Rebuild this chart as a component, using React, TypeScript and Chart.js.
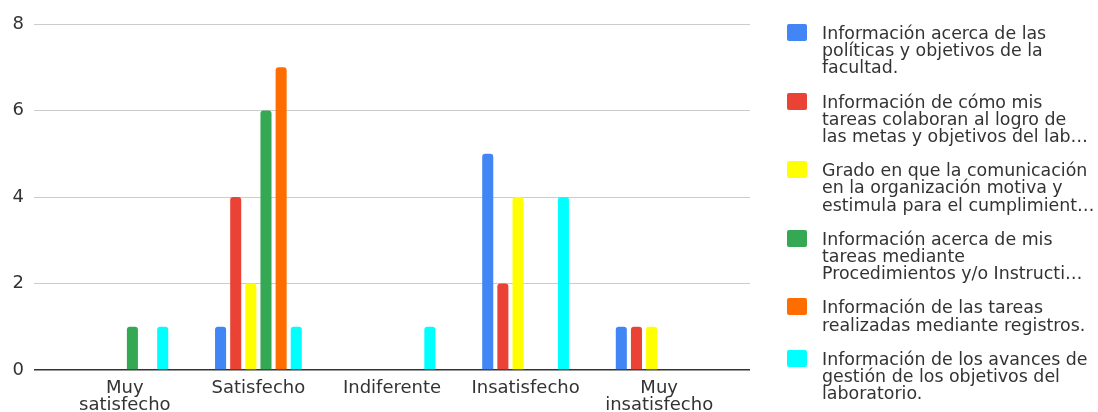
import React, { useEffect, useRef } from "react";
import { Chart, registerables } from "chart.js";

Chart.register(...registerables);

// ---- data ----
const categories = ["Muy satisfecho", "Satisfecho", "Indiferente", "Insatisfecho", "Muy insatisfecho"];
const categoryLabelLines = [["Muy", "satisfecho"], ["Satisfecho"], ["Indiferente"], ["Insatisfecho"], ["Muy", "insatisfecho"]];

const politicasFacultad = [0, 1, 0, 5, 1];
const colaboranLogro = [0, 4, 0, 2, 1];
const gradoComunicacion = [0, 2, 0, 4, 1];
const procedimientosInstructivos = [1, 6, 0, 0, 0];
const tareasRegistros = [0, 7, 0, 0, 0];
const avancesGestion = [1, 1, 1, 4, 0];

const seriesNames = [
  "Información acerca de las políticas y objetivos de la facultad.",
  "Información de cómo mis tareas colaboran al logro de las metas y objetivos del laboratorio",
  "Grado en que la comunicación en la organización motiva y estimula para el cumplimiento",
  "Información acerca de mis tareas mediante Procedimientos y/o Instructivos",
  "Información de las tareas realizadas mediante registros.",
  "Información de los avances de gestión de los objetivos del laboratorio.",
];
const legendLines = [
  ["Información acerca de las", "políticas y objetivos de la", "facultad."],
  ["Información de cómo mis", "tareas colaboran al logro de", "las metas y objetivos del lab…"],
  ["Grado en que la comunicación", "en la organización motiva y", "estimula para el cumplimient…"],
  ["Información acerca de mis", "tareas mediante", "Procedimientos y/o Instructi…"],
  ["Información de las tareas", "realizadas mediante registros."],
  ["Información de los avances de", "gestión de los objetivos del", "laboratorio."],
];
const seriesValues = [
  politicasFacultad,
  colaboranLogro,
  gradoComunicacion,
  procedimientosInstructivos,
  tareasRegistros,
  avancesGestion,
];
const seriesColors = ["#4285F4", "#EA4335", "#FFFF00", "#34A853", "#FF6D01", "#00FFFF"];

const yTicks = [0, 2, 4, 6, 8];

const FONT = "'DejaVu Sans', sans-serif";

export default function App() {
  const canvasRef = useRef<HTMLCanvasElement | null>(null);

  useEffect(() => {
    if (!canvasRef.current) return;
    const chart = new Chart(canvasRef.current, {
      type: "bar",
      data: {
        datasets: seriesValues.map((vals, si) => ({
          label: seriesNames[si],
          data: vals.map((v, i) => ({ x: i, y: v })),
          backgroundColor: seriesColors[si],
          borderRadius: 3,
          borderWidth: 0,
          categoryPercentage: 0.68,
          barPercentage: 0.73,
        })),
      },
      options: {
        animation: false,
        responsive: true,
        maintainAspectRatio: false,
        layout: { padding: { left: 0, right: 348, top: 24, bottom: 0 } },
        plugins: {
          legend: { display: false },
          tooltip: { enabled: false },
        },
        scales: {
          x: {
            type: "linear",
            offset: false,
            min: -0.68,
            max: 4.68,
            grid: { display: false, drawTicks: false, offset: false },
            border: { display: false },
            afterBuildTicks: (scale: any) => {
              scale.ticks = categories.map((_, i) => ({ value: i }));
            },
            afterFit: (scale: any) => {
              scale.height = 42;
            },
            ticks: {
              autoSkip: false,
              maxRotation: 0,
              minRotation: 0,
              padding: 10,
              color: "#333",
              font: { family: FONT, size: 18, lineHeight: 0.95 },
              callback: (value: any) => categoryLabelLines[Math.round(Number(value))] ?? "",
            },
          },
          y: {
            min: 0,
            max: 8,
            afterBuildTicks: (scale: any) => {
              scale.ticks = yTicks.map((v) => ({ value: v }));
            },
            afterFit: (scale: any) => {
              scale.width = 34;
            },
            border: { display: false },
            grid: {
              drawTicks: false,
              color: (ctx: any) => (ctx.tick && ctx.tick.value === 0 ? "#333333" : "#cccccc"),
              lineWidth: (ctx: any) => (ctx.tick && ctx.tick.value === 0 ? 1.5 : 1),
            },
            ticks: {
              padding: 10,
              color: "#333",
              font: { family: FONT, size: 18 },
            },
          },
        },
      },
    });
    return () => chart.destroy();
  }, []);

  return (
    <div
      style={{
        position: "fixed",
        left: 0,
        top: 0,
        width: 1098,
        height: 412,
        background: "#ffffff",
        overflow: "hidden",
      }}
    >
      <div style={{ position: "absolute", left: 0, top: 0, width: 1098, height: 412 }}>
        <canvas ref={canvasRef} />
      </div>
      <div
        style={{
          position: "absolute",
          left: 787,
          top: 24,
          display: "flex",
          flexDirection: "column",
          gap: 16,
          fontFamily: FONT,
          fontSize: 17.4,
          lineHeight: "17.2px",
          color: "#333",
        }}
      >
        {legendLines.map((lines, i) => (
          <div key={i} style={{ display: "flex", alignItems: "flex-start" }}>
            <div
              style={{
                width: 20,
                height: 17,
                borderRadius: 2,
                background: seriesColors[i],
                marginRight: 15,
                flex: "0 0 auto",
              }}
            />
            <div style={{ marginTop: 1 }}>
              {lines.map((ln, j) => (
                <div key={j} style={{ whiteSpace: "nowrap" }}>
                  {ln}
                </div>
              ))}
            </div>
          </div>
        ))}
      </div>
    </div>
  );
}
